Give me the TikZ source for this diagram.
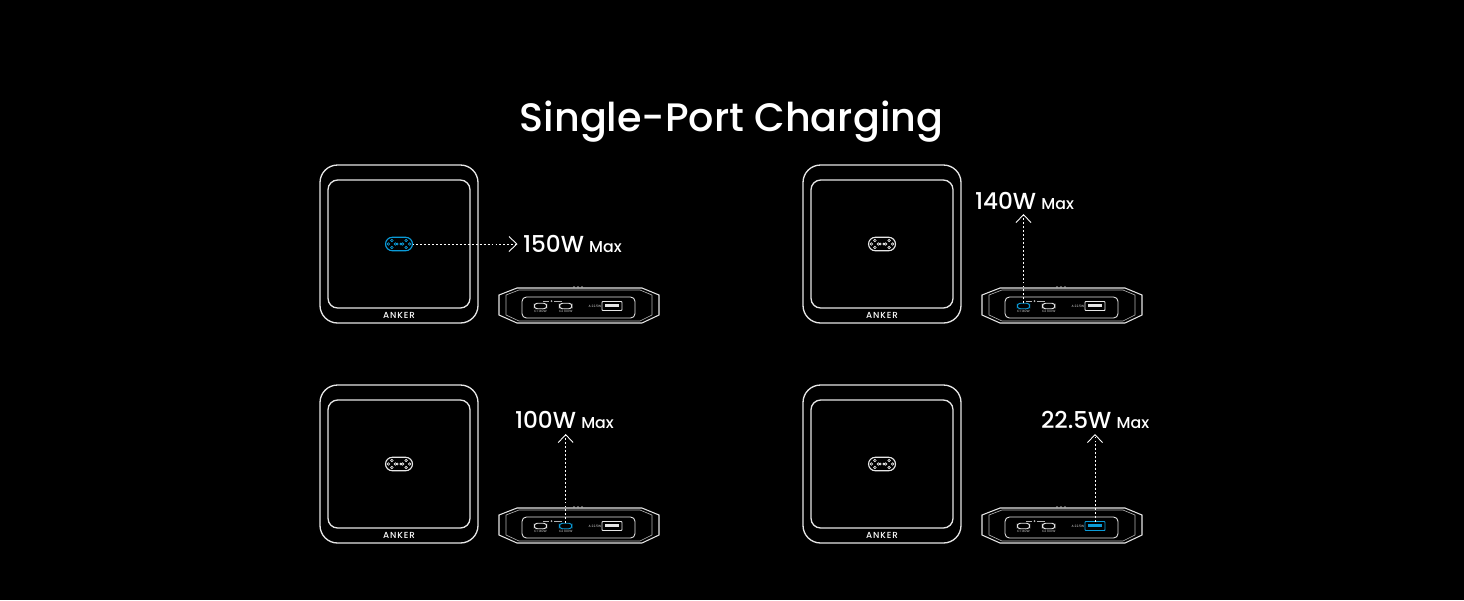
\documentclass[tikz,border=0pt]{standalone}
\usepackage{fontspec}
\usepackage{tikz}
\usetikzlibrary{arrows.meta}
\setmainfont{Poppins Medium}
\definecolor{portblue}{HTML}{0A9BD8}
\definecolor{linegray}{HTML}{E6E6E6}
\definecolor{dimgray}{HTML}{B4B4B4}

\begin{document}
\begin{tikzpicture}[x=0.02cm, y=-0.02cm,
  every node/.style={inner sep=0pt, outer sep=0pt, text=white},
  shell/.style={draw=linegray, line width=0.75pt},
  trim/.style={draw=dimgray, line width=0.35pt},
  padshape/.style={draw=#1, line width=0.65pt, rounded corners=3.9pt, minimum width=0.54cm, minimum height=0.27cm},
  cport/.style={draw=#1, line width=0.55pt, rounded corners=1.7pt, minimum width=0.25cm, minimum height=0.11cm},
  aport/.style={draw=#1, line width=0.55pt, rounded corners=0.4pt, minimum width=0.4cm, minimum height=0.18cm},
  rating/.style={font=\fontsize{1.8}{2}\selectfont, text=dimgray},
  wattage/.style={anchor=base west, font=\fontsize{13.2}{16}\selectfont},
  dotline/.style={draw=white, line width=0.55pt, dash pattern=on 1.1pt off 1.15pt,
    -{Straight Barb[length=4.5pt, width=8.5pt, line width=0.5pt]}},
  pics/charger/.style={code={
    \draw[shell, rounded corners=10pt] (0,0) rectangle (158,158);
    \draw[shell, rounded corners=5.5pt] (8,15) rectangle (150,143);
    \node[padshape=#1] (-pad) at (79,79) {};
    \draw[draw=#1, line width=0.35pt] (68.4,79) circle (1.3) ++(3.5,-3.5) circle (1.3) ++(0,7) circle (1.3) ++(3.5,-3.5) circle (1.3)
      (77.2,79) circle (1) (80.8,79) circle (1)
      (82.6,79) circle (1.3) ++(3.5,-3.5) circle (1.3) ++(0,7) circle (1.3) ++(3.5,-3.5) circle (1.3);
    \node[font=\fontsize{5}{6}\selectfont\addfontfeature{LetterSpace=10}] (-logo) at (79,150) {ANKER};
  }},
  pics/bank/.style n args={3}{code={
    \draw[shell, line width=0.6pt] (0,8) -- (18,1) -- (143,1) -- (160,8) -- (160,28) -- (143,36) -- (18,36) -- (0,28) -- cycle;
    \draw[trim] (7,28) -- (7,8) -- (20,3) -- (141,3) -- (153,8) -- (153,28) -- (141,34) -- (20,34) -- cycle;
    \draw[shell, line width=0.5pt, rounded corners=2.5pt] (23,10) rectangle (136,31);
    \fill[dimgray] (75,0) circle (0.8) (79,0) circle (0.8) (83,0) circle (0.8);
    \draw[trim] (44,14) -- (50,14) (55,14) -- (63,14);
    \fill[dimgray] (52.5,14) circle (1);
    \node[cport=#1] (-c1) at (41.5,19) {};
    \node[cport=#2] (-c2) at (66.7,19) {};
    \node[aport=#3] (-a) at (113,19) {};
    \fill[#3] (106,17) rectangle (120,20);
    \node[rating] (-c1text) at (41.5,24.5) {C1 140W};
    \node[rating] (-c2text) at (66.7,24.5) {C2 100W};
    \node[rating] (-atext) at (96,19) {A 22.5W};
  }}]
\fill[black] (0,0) rectangle (1464,600);
\useasboundingbox (0,0) rectangle (1464,600);

\node[font=\fontsize{22.6}{26}\selectfont] (title) at (731.5,122) {Single-Port Charging};

\pic (c150) at (320,165) {charger=portblue};
\pic (c140) at (803,165) {charger=linegray};
\pic (c100) at (320,385) {charger=linegray};
\pic (c22) at (803,385) {charger=linegray};

\pic (b150) at (499,287) {bank={linegray}{linegray}{linegray}};
\pic (b140) at (982,287) {bank={portblue}{linegray}{linegray}};
\pic (b100) at (499,507) {bank={linegray}{portblue}{linegray}};
\pic (b22) at (982,507) {bank={linegray}{linegray}{portblue}};

\node[wattage] (w150) at (523,252.5) {150W\hspace{3pt}{\fontsize{9}{11}\selectfont Max}};
\node[wattage] (w140) at (975,209.5) {140W\hspace{3pt}{\fontsize{9}{11}\selectfont Max}};
\node[wattage] (w100) at (515,428.5) {100W\hspace{3pt}{\fontsize{9}{11}\selectfont Max}};
\node[wattage] (w22) at (1041,428.5) {22.5W\hspace{3pt}{\fontsize{9}{11}\selectfont Max}};

\coordinate (tip150) at (517.5,244);
\coordinate (tip140) at (1023.5,214);
\coordinate (tip100) at (565.7,434);
\coordinate (tip22) at (1095,434);

\draw[dotline] (c150-pad.east) -- (tip150);
\draw[dotline] (b140-c1.north) -- (tip140);
\draw[dotline] (b100-c2.north) -- (tip100);
\draw[dotline] (b22-a.north) -- (tip22);
\end{tikzpicture}
\end{document}
